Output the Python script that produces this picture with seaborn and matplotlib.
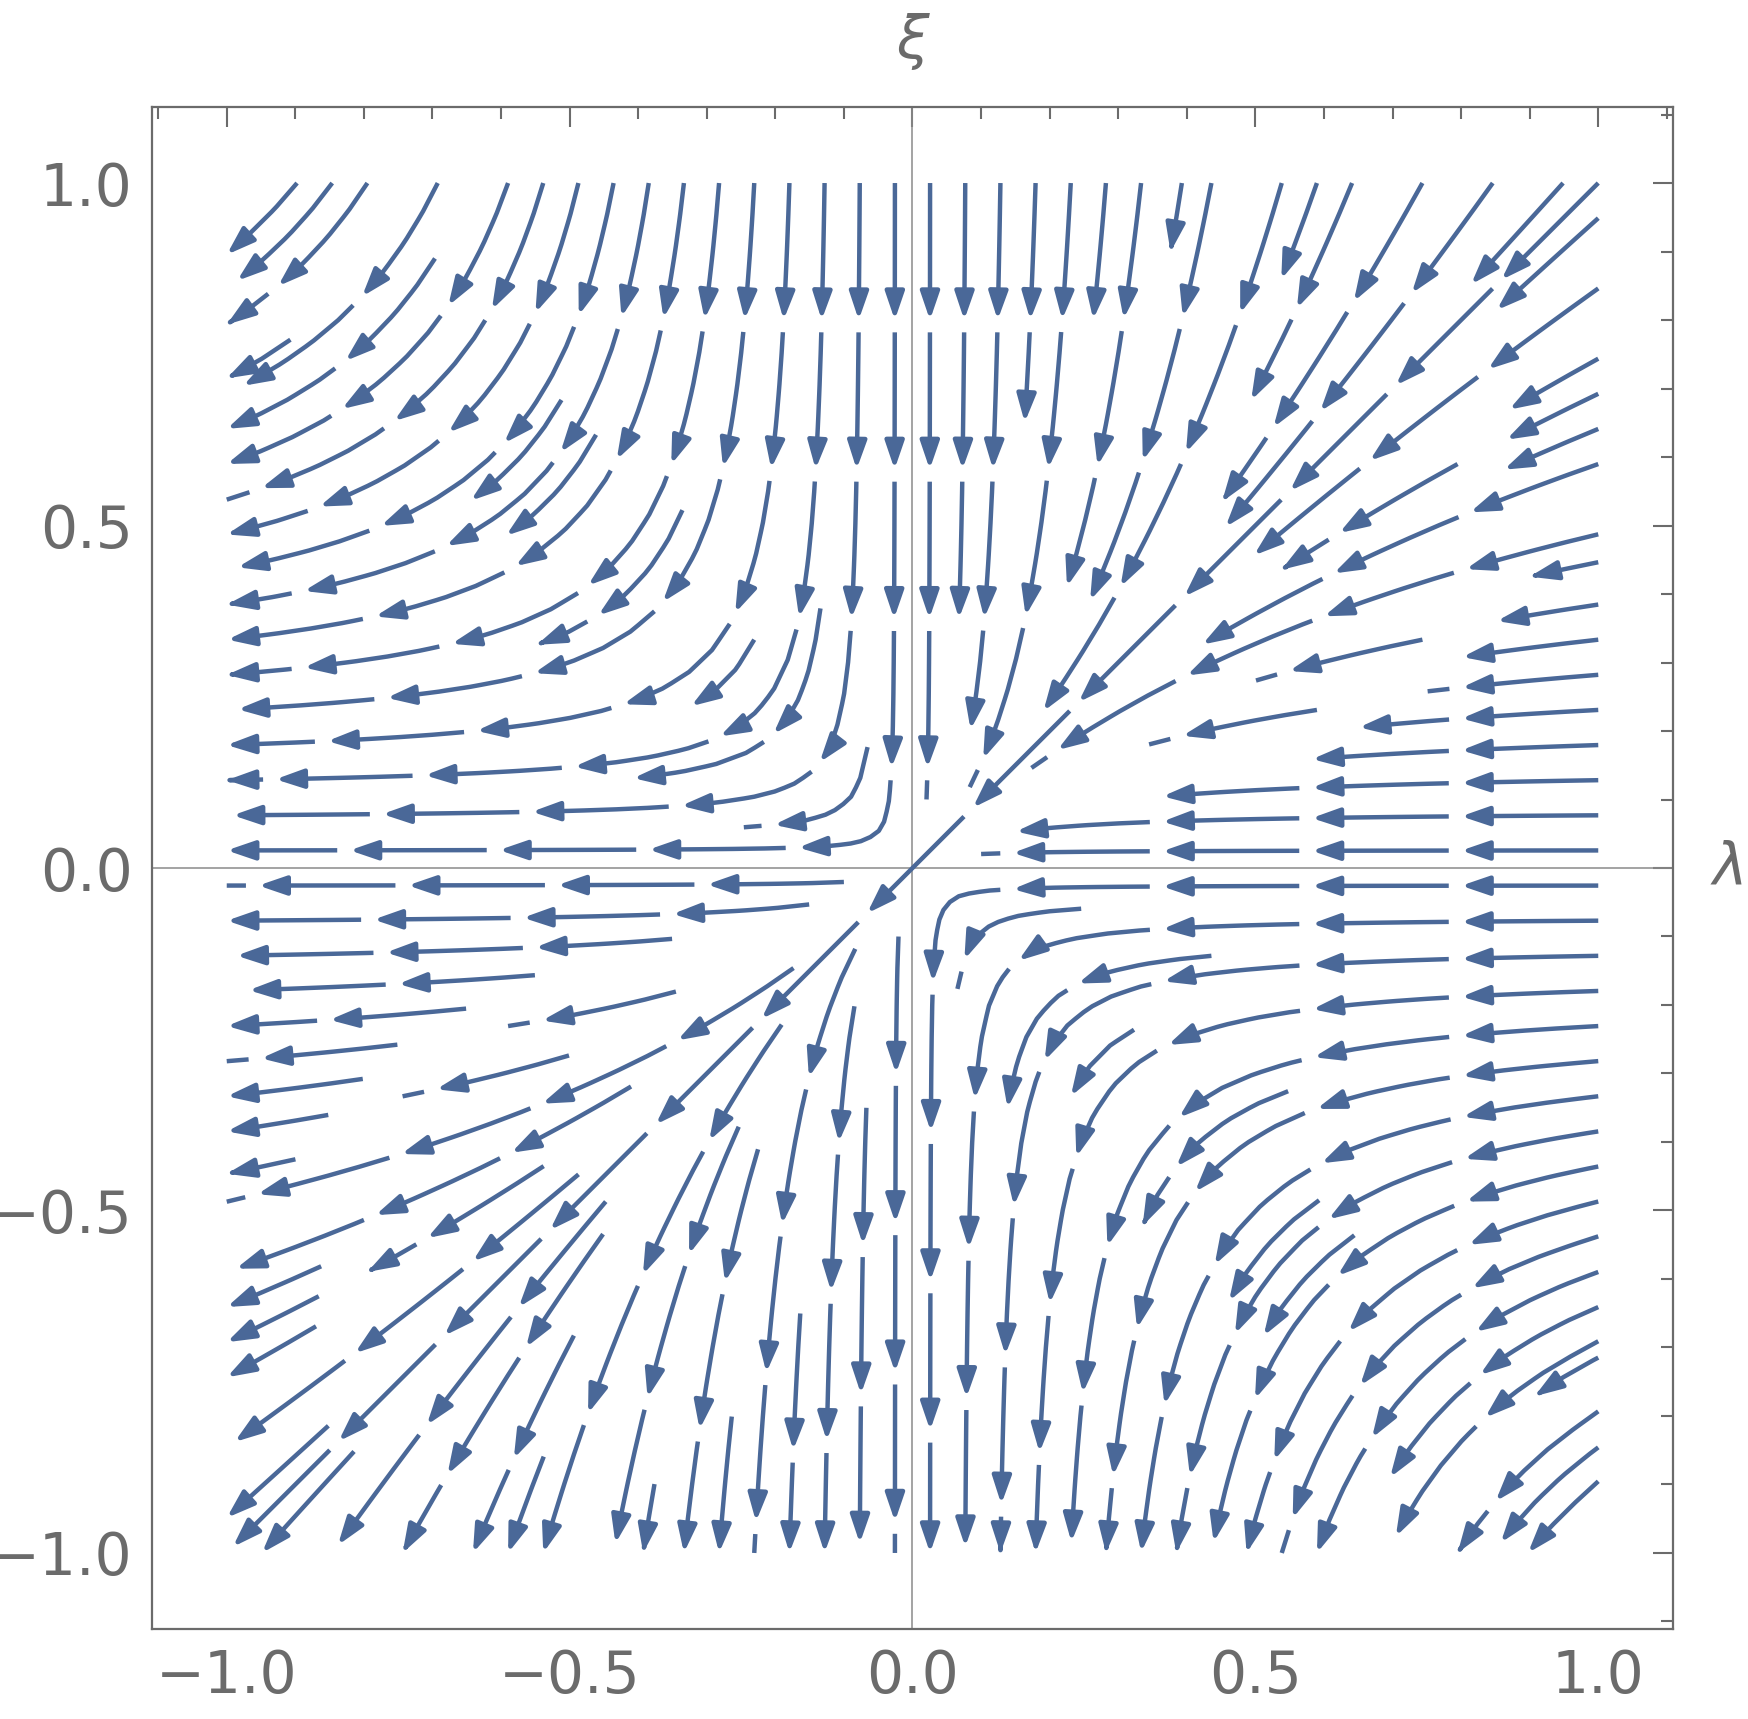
import numpy as np
import matplotlib
matplotlib.use("Agg")
import matplotlib.pyplot as plt
import seaborn as sns
from matplotlib.patches import FancyArrowPatch, ArrowStyle
from matplotlib.path import Path

# ---- data: vector field of the system  λ' = -λ²,  ξ' = -ξ² on [-1,1]² ----
lam = np.linspace(-1.0, 1.0, 160)
xi = np.linspace(-1.0, 1.0, 160)
major_ticks = [-1.0, -0.5, 0.0, 0.5, 1.0]
tick_labels = ["\u22121.0", "\u22120.5", "0.0", "0.5", "1.0"]
x_label = "\u03bb"
y_label = "\u03be"

LAM, XI = np.meshgrid(lam, xi)
d_lam = -LAM ** 2
d_xi = -XI ** 2

sns.set_style("white")
plt.rcParams["font.family"] = ["DejaVu Sans"]

STREAM = "#4a6898"
GRAY = "#6b6b6b"

fig = plt.figure(figsize=(17.49, 17.19), dpi=100)
ax = fig.add_axes([152 / 1749, 1 - 1629 / 1719, 1521 / 1749, 1522 / 1719])

sp = ax.streamplot(lam, xi, d_lam, d_xi, density=1.3334, color=STREAM,
                   linewidth=3.0, arrowsize=0.01, minlength=0.05)
streamlines = [np.asarray(s) for s in sp.lines.get_segments()]
sp.lines.remove()
for p in list(ax.patches):
    p.remove()

# Mathematica-like rendering: each streamline cut into pieces, arrowhead at the end of each piece
SEG = 0.2
GAP = 0.018
LW = 3.2
style = ArrowStyle("-|>", head_length=17, head_width=5.8)
for pts in streamlines:
    if len(pts) < 2:
        continue
    ds = np.hypot(np.diff(pts[:, 0]), np.diff(pts[:, 1]))
    s = np.concatenate([[0], np.cumsum(ds)])
    total = s[-1]
    a = 0.0
    while a < total - 0.02:
        b = min(a + SEG, total)
        ss = np.linspace(a, b, 14)
        px = np.interp(ss, s, pts[:, 0])
        py = np.interp(ss, s, pts[:, 1])
        if b - a > 0.045:
            patch = FancyArrowPatch(path=Path(np.column_stack([px, py])), arrowstyle=style,
                                    mutation_scale=1, color=STREAM, lw=LW,
                                    capstyle="butt", joinstyle="round", zorder=3)
            ax.add_patch(patch)
        else:
            ax.plot(px, py, color=STREAM, lw=LW, solid_capstyle="butt", zorder=3)
        a = b + GAP

# axes through origin
ax.axhline(0, color="#8a8a8a", lw=1.1, zorder=1)
ax.axvline(0, color="#8a8a8a", lw=1.1, zorder=1)

ax.set_xlim(-1.109, 1.109)
ax.set_ylim(-1.111, 1.111)
ax.set_xticks(major_ticks)
ax.set_yticks(major_ticks)
ax.set_xticklabels(tick_labels)
ax.set_yticklabels(tick_labels)
minor = np.round(np.arange(-1.1, 1.1001, 0.1), 2)
ax.set_xticks(minor, minor=True)
ax.set_yticks(minor, minor=True)
ax.tick_params(which="both", direction="in", top=True, right=True, color=GRAY,
               width=1.5, labelsize=42, labelcolor=GRAY, pad=14)
ax.tick_params(which="major", length=14.5)
ax.tick_params(which="minor", length=8.5)
for sp_ in ax.spines.values():
    sp_.set_color(GRAY)
    sp_.set_linewidth(1.6)

ax.annotate(y_label, xy=(0, 1.043), xycoords=("data", "axes fraction"),
            ha="center", va="center", fontsize=42, color=GRAY, style="italic",
            annotation_clip=False)
ax.annotate(x_label, xy=(1.0375, 0), xycoords=("axes fraction", "data"),
            ha="center", va="center", fontsize=42, color=GRAY, style="italic",
            annotation_clip=False)

fig.savefig("out.png", dpi=100)
